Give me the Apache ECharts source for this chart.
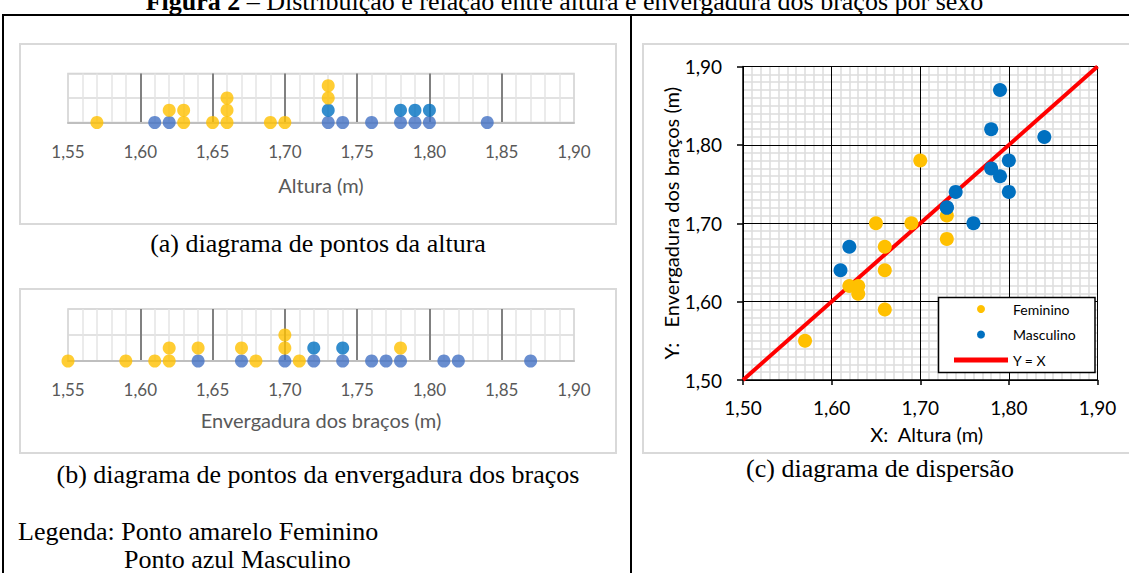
<!DOCTYPE html>
<html>
<head>
<meta charset="utf-8">
<script src="https://cdn.jsdelivr.net/npm/echarts@6/dist/echarts.min.js"></script>
<style>
html,body{margin:0;padding:0;background:#fff;}
#chart{width:1129px;height:573px;}
</style>
</head>
<body>
<div id="chart"></div>
<script>
// ---- data ----
const alturaFem = [1.57, 1.62, 1.63, 1.63, 1.65, 1.66, 1.66, 1.66, 1.69, 1.70, 1.73, 1.73];
const envergFem = [1.55, 1.62, 1.62, 1.61, 1.70, 1.67, 1.64, 1.59, 1.70, 1.78, 1.71, 1.68];
const alturaMasc = [1.61, 1.62, 1.73, 1.73, 1.74, 1.76, 1.78, 1.78, 1.79, 1.79, 1.80, 1.80, 1.84];
const envergMasc = [1.64, 1.67, 1.72, 1.72, 1.74, 1.70, 1.82, 1.77, 1.87, 1.76, 1.78, 1.74, 1.81];
const dotTicks = [1.55, 1.60, 1.65, 1.70, 1.75, 1.80, 1.85, 1.90];
const scatTicks = [1.50, 1.60, 1.70, 1.80, 1.90];
const identityLine = [[1.50, 1.50], [1.90, 1.90]];

const COL_FEM = '#FFC000', COL_MASC0 = '#4472C4', COL_MASC = '#0070C0';
const FONT = 'Lato';
const SERIF = 'Liberation Serif';
const fmt = v => v.toFixed(2).replace('.', ',');

// stack dots: males first then females, per value
function stack(masc, fem) {
  const count = {};
  const out = [];
  masc.forEach(v => {
    const k = v.toFixed(2); const lvl = count[k] || 0; count[k] = lvl + 1;
    out.push({ value: [v, lvl], itemStyle: { color: lvl === 0 ? COL_MASC0 : COL_MASC } });
  });
  fem.forEach(v => {
    const k = v.toFixed(2); const lvl = count[k] || 0; count[k] = lvl + 1;
    out.push({ value: [v, lvl], itemStyle: { color: COL_FEM } });
  });
  return out;
}

const dotX = (gi, name, nameGap) => ({
  type: 'value', gridIndex: gi, min: dotTicks[0], max: dotTicks[dotTicks.length - 1], interval: 0.05,
  name: name, nameLocation: 'middle', nameGap: nameGap,
  nameTextStyle: { fontFamily: FONT, fontSize: 20, color: '#595959' },
  axisLine: { show: true, lineStyle: { color: '#bfbfbf', width: 2 } },
  axisTick: { show: false },
  axisLabel: { formatter: fmt, fontFamily: FONT, fontSize: 17, color: '#595959', margin: 20 },
  splitLine: { show: true, showMinLine: false, showMaxLine: false, lineStyle: { color: '#808080', width: 2 } },
  minorTick: { show: false, splitNumber: 5 },
  minorSplitLine: { show: true, lineStyle: { color: '#e4e4e4', width: 1.5 } }
});
const dotY = (gi) => ({
  type: 'value', gridIndex: gi, min: 0, max: 4, interval: 2,
  axisLine: { show: false }, axisTick: { show: false }, axisLabel: { show: false },
  splitLine: { show: true, lineStyle: { color: '#d9d9d9', width: 1.5 } }
});
const scatMajor = (gi) => ({
  type: 'value', gridIndex: gi, min: scatTicks[0], max: scatTicks[scatTicks.length - 1], interval: 0.1, z: 1,
  axisLine: { show: false }, axisTick: { show: false }, axisLabel: { show: false },
  splitLine: { show: true, lineStyle: { color: '#000', width: 1 } }
});

const SCAT_GRID = { left: 743, top: 66.5, width: 354.5, height: 313.5 };

const chart = echarts.init(document.getElementById('chart'), null, { renderer: 'svg' });
chart.setOption({
  animation: false,
  backgroundColor: '#fff',
  grid: [
    { left: 68, top: 73.5, width: 506, height: 49, show: true, borderColor: '#d0d0d0', borderWidth: 1.5, backgroundColor: 'transparent' },
    { left: 68, top: 309, width: 506, height: 52, show: true, borderColor: '#d0d0d0', borderWidth: 1.5, backgroundColor: 'transparent' },
    Object.assign({}, SCAT_GRID),
    Object.assign({}, SCAT_GRID)
  ],
  xAxis: [
    dotX(0, 'Altura (m)', 52),
    dotX(1, 'Envergadura dos braços (m)', 49),
    {
      type: 'value', gridIndex: 2, min: scatTicks[0], max: scatTicks[scatTicks.length - 1], interval: 0.1, z: 0,
      name: 'X:  Altura (m)', nameLocation: 'middle', nameGap: 44,
      nameTextStyle: { fontFamily: FONT, fontSize: 20, color: '#000', padding: [0, 0, 0, 13] },
      axisLine: { show: true, lineStyle: { color: '#000', width: 1.5 } },
      axisTick: { show: true, length: 5, lineStyle: { color: '#000', width: 1.5 } },
      axisLabel: { formatter: fmt, fontFamily: FONT, fontSize: 19, color: '#000', margin: 18 },
      splitLine: { show: false },
      minorTick: { show: false, splitNumber: 10 },
      minorSplitLine: { show: true, lineStyle: { color: '#dcdcdc', width: 1.5 } }
    },
    scatMajor(3)
  ],
  yAxis: [
    dotY(0), dotY(1),
    {
      type: 'value', gridIndex: 2, min: scatTicks[0], max: scatTicks[scatTicks.length - 1], interval: 0.1, z: 0,
      name: 'Y:   Envergadura dos braços (m)', nameLocation: 'middle', nameGap: 60, nameRotate: 90,
      nameTextStyle: { fontFamily: FONT, fontSize: 20, color: '#000' },
      axisLine: { show: true, lineStyle: { color: '#000', width: 1.5 } },
      axisTick: { show: true, length: 6, lineStyle: { color: '#000', width: 1.5 } },
      axisLabel: { formatter: fmt, fontFamily: FONT, fontSize: 19, color: '#000', margin: 21 },
      splitLine: { show: false },
      minorTick: { show: false, splitNumber: 10 },
      minorSplitLine: { show: true, lineStyle: { color: '#dcdcdc', width: 1.5 } }
    },
    scatMajor(3)
  ],
  legend: {
    left: 954, top: 301, orient: 'vertical', padding: 0, itemGap: 9.5,
    itemWidth: 54, itemHeight: 8, z: 10,
    textStyle: { fontFamily: FONT, fontSize: 14, color: '#000', lineHeight: 16 },
    data: [
      { name: 'Feminino', icon: 'circle' },
      { name: 'Masculino', icon: 'circle' },
      { name: 'Y = X', icon: 'path://M0,0h54v5h-54z', itemStyle: { color: '#FF0000', borderWidth: 0 } }
    ]
  },
  series: [
    { type: 'scatter', xAxisIndex: 0, yAxisIndex: 0, symbolSize: 13, data: stack(alturaMasc, alturaFem), z: 3 },
    { type: 'scatter', xAxisIndex: 1, yAxisIndex: 1, symbolSize: 13, data: stack(envergMasc, envergFem), z: 3 },
    { name: 'Y = X', type: 'line', xAxisIndex: 2, yAxisIndex: 2, data: identityLine, symbol: 'none',
      lineStyle: { color: '#FF0000', width: 4 }, itemStyle: { color: '#FF0000' }, z: 2 },
    { name: 'Feminino', type: 'scatter', xAxisIndex: 2, yAxisIndex: 2, symbolSize: 14, itemStyle: { color: COL_FEM, opacity: 1 }, z: 3,
      data: alturaFem.map((v, i) => [v, envergFem[i]]) },
    { name: 'Masculino', type: 'scatter', xAxisIndex: 2, yAxisIndex: 2, symbolSize: 14, itemStyle: { color: COL_MASC, opacity: 1 }, z: 4,
      data: alturaMasc.map((v, i) => [v, envergMasc[i]]) }
  ],
  graphic: [
    // table lines
    { type: 'line', shape: { x1: 3, y1: 15, x2: 1129, y2: 15 }, style: { stroke: '#000', lineWidth: 2 }, z: 20 },
    { type: 'line', shape: { x1: 3, y1: 14, x2: 3, y2: 573 }, style: { stroke: '#000', lineWidth: 2 }, z: 20 },
    { type: 'line', shape: { x1: 631, y1: 14, x2: 631, y2: 573 }, style: { stroke: '#000', lineWidth: 2 }, z: 20 },
    // panel boxes
    { type: 'rect', shape: { x: 20, y: 44, width: 596, height: 180 }, style: { fill: 'none', stroke: '#d9d9d9', lineWidth: 2 }, z: -1 },
    { type: 'rect', shape: { x: 20, y: 289, width: 596, height: 164 }, style: { fill: 'none', stroke: '#d9d9d9', lineWidth: 2 }, z: -1 },
    { type: 'rect', shape: { x: 643, y: 44, width: 500, height: 409 }, style: { fill: 'none', stroke: '#d9d9d9', lineWidth: 2 }, z: -1 },
    // scatter legend box
    { type: 'rect', shape: { x: 938.5, y: 297.5, width: 156.5, height: 75 }, style: { fill: '#fff', stroke: '#000', lineWidth: 1.5 }, z: 8 },
    // title
    { type: 'text', left: 'center', top: -12, style: {
        text: '{b|Figura 2} – Distribuição e relação entre altura e envergadura dos braços por sexo',
        font: '26px "Liberation Serif"', fill: '#000',
        rich: { b: { fontWeight: 'bold', fontFamily: SERIF, fontSize: 26 } } }, z: 20 },
    // captions
    { type: 'text', x: 318, y: 243, style: { text: '(a) diagrama de pontos da altura', font: '26px "Liberation Serif"', fill: '#000', textAlign: 'center', textVerticalAlign: 'middle' }, z: 20 },
    { type: 'text', x: 318, y: 474, style: { text: '(b) diagrama de pontos da envergadura dos braços', font: '26px "Liberation Serif"', fill: '#000', textAlign: 'center', textVerticalAlign: 'middle' }, z: 20 },
    { type: 'text', x: 880, y: 468, style: { text: '(c) diagrama de dispersão', font: '26px "Liberation Serif"', fill: '#000', textAlign: 'center', textVerticalAlign: 'middle' }, z: 20 },
    { type: 'text', x: 18, y: 531, style: { text: 'Legenda: Ponto amarelo Feminino', font: '26px "Liberation Serif"', fill: '#000', textAlign: 'left', textVerticalAlign: 'middle' }, z: 20 },
    { type: 'text', x: 124, y: 559, style: { text: 'Ponto azul Masculino', font: '26px "Liberation Serif"', fill: '#000', textAlign: 'left', textVerticalAlign: 'middle' }, z: 20 }
  ]
});
</script>
</body>
</html>
